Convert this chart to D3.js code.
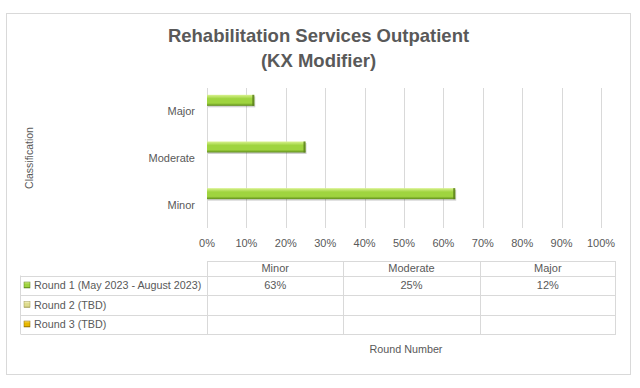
<!DOCTYPE html>
<html>
<head>
<meta charset="utf-8">
<script src="https://cdn.jsdelivr.net/npm/d3@7/dist/d3.min.js"></script>
<style>
  html, body { margin: 0; padding: 0; background: #fff; }
  svg text { font-family: "Liberation Sans", Arial, sans-serif; fill: #595959; }
</style>
</head>
<body>
<svg id="chart" width="640" height="388"></svg>
<script>
/* Rehabilitation Services Outpatient (KX Modifier) — barras horizontais + tabela de dados */

const categorias = ["Minor", "Moderate", "Major"];          // ordem da tabela
const series = ["Round 1 (May 2023 - August 2023)", "Round 2 (TBD)", "Round 3 (TBD)"];
const round1 = [0.63, 0.25, 0.12];
const round2 = [null, null, null];
const round3 = [null, null, null];
const ticksX = [0, 0.1, 0.2, 0.3, 0.4, 0.5, 0.6, 0.7, 0.8, 0.9, 1.0];

const valores = [round1, round2, round3];
const CORES = [
  { top: "#d9f28f", mid: "#9fd43f", bot: "#5f8c1b", end: "#5a7f1c" },
  { top: "#f7f5c8", mid: "#dedc8e", bot: "#a9a55a", end: "#9c984f" },
  { top: "#ffe37a", mid: "#e8b800", bot: "#a07c00", end: "#8a6a00" },
];
const GRADE = "#d9d9d9";

const svg = d3.select("#chart");
const defs = svg.append("defs");
CORES.forEach((c, i) => {
  const g = defs.append("linearGradient").attr("id", `grad${i}`)
    .attr("x1", 0).attr("x2", 0).attr("y1", 0).attr("y2", 1);
  g.append("stop").attr("offset", "0%").attr("stop-color", c.top);
  g.append("stop").attr("offset", "35%").attr("stop-color", c.mid);
  g.append("stop").attr("offset", "75%").attr("stop-color", c.mid);
  g.append("stop").attr("offset", "100%").attr("stop-color", c.bot);
});

// moldura
svg.append("rect").attr("x", 6.5).attr("y", 13.5).attr("width", 624).attr("height", 361)
  .attr("fill", "#fff").attr("stroke", GRADE);

// título
svg.append("text").attr("x", 318.5).attr("y", 41.5).attr("text-anchor", "middle")
  .style("font-size", "18.5px").style("font-weight", "bold")
  .text("Rehabilitation Services Outpatient");
svg.append("text").attr("x", 318.5).attr("y", 66.5).attr("text-anchor", "middle")
  .style("font-size", "18.5px").style("font-weight", "bold")
  .text("(KX Modifier)");

// escalas
const x = d3.scaleLinear().domain([0, 1]).range([207, 601]);
const y = d3.scaleBand().domain([...categorias].reverse()).range([88, 228]);
const ySub = d3.scaleBand().domain(d3.range(series.length))
  .range([0, y.bandwidth()]).paddingOuter(0.62);

// grade vertical
svg.append("g").selectAll("line").data(ticksX).join("line")
  .attr("x1", (d) => Math.round(x(d)) + 0.5).attr("x2", (d) => Math.round(x(d)) + 0.5)
  .attr("y1", 88).attr("y2", 228)
  .attr("stroke", GRADE);

// rótulos do eixo x
svg.append("g").selectAll("text").data(ticksX).join("text")
  .attr("x", (d) => x(d)).attr("y", 247)
  .attr("text-anchor", "middle")
  .style("font-size", "11px")
  .text((d) => d3.format(".0%")(d));

// rótulos das categorias
svg.append("g").selectAll("text").data(categorias).join("text")
  .attr("x", 195).attr("y", (d) => y(d) + y.bandwidth() / 2 + 4)
  .attr("text-anchor", "end")
  .style("font-size", "11px")
  .text((d) => d);

// título do eixo y
svg.append("text")
  .attr("transform", "translate(33,158) rotate(-90)")
  .attr("text-anchor", "middle")
  .style("font-size", "10.5px")
  .text("Classification");

// barras
const barras = [];
valores.forEach((serie, s) => serie.forEach((v, c) => {
  if (v != null) barras.push({ s, cat: categorias[c], v });
}));
const gB = svg.append("g");
gB.selectAll("rect.sombra").data(barras).join("rect").attr("class", "sombra")
  .attr("x", x(0) + 1).attr("y", (d) => y(d.cat) + ySub(d.s) + 1.5)
  .attr("width", (d) => x(d.v) - x(0)).attr("height", ySub.bandwidth())
  .attr("fill", "#000").attr("opacity", 0.18);
gB.selectAll("rect.barra").data(barras).join("rect").attr("class", "barra")
  .attr("x", x(0)).attr("y", (d) => y(d.cat) + ySub(d.s))
  .attr("width", (d) => x(d.v) - x(0)).attr("height", ySub.bandwidth())
  .attr("fill", (d) => `url(#grad${d.s})`);
gB.selectAll("rect.ponta").data(barras).join("rect").attr("class", "ponta")
  .attr("x", (d) => x(d.v) - 2).attr("y", (d) => y(d.cat) + ySub(d.s))
  .attr("width", 2).attr("height", ySub.bandwidth())
  .attr("fill", (d) => CORES[d.s].end).attr("opacity", 0.85);

// tabela de dados
const colX = d3.scaleBand().domain(categorias).range([207, 616]);
const rowTop = 275.5, rowH = [19, 20, 19];
const rowY = [rowTop, rowTop + rowH[0], rowTop + rowH[0] + rowH[1]];
const tabBot = rowY[2] + rowH[2];
const gT = svg.append("g").attr("stroke", GRADE).attr("fill", "none");
// linhas horizontais
gT.append("line").attr("x1", 207).attr("x2", 616).attr("y1", 261.5).attr("y2", 261.5);
[rowTop, rowY[1], rowY[2], tabBot].forEach((yy) =>
  gT.append("line").attr("x1", 20.5).attr("x2", 616).attr("y1", Math.round(yy) + 0.5)
    .attr("y2", Math.round(yy) + 0.5));
// linhas verticais
gT.append("line").attr("x1", 20.5).attr("x2", 20.5).attr("y1", rowTop).attr("y2", tabBot + 0.5);
categorias.forEach((c) => {
  const xx = Math.round(colX(c)) + 0.5;
  gT.append("line").attr("x1", xx).attr("x2", xx).attr("y1", 261.5).attr("y2", tabBot + 0.5);
});
gT.append("line").attr("x1", 615.5).attr("x2", 615.5).attr("y1", 261.5).attr("y2", tabBot + 0.5);

// cabeçalho
svg.append("g").selectAll("text").data(categorias).join("text")
  .attr("x", (d) => colX(d) + colX.bandwidth() / 2).attr("y", 272)
  .attr("text-anchor", "middle").style("font-size", "11px")
  .text((d) => d);

// linhas da legenda
series.forEach((nome, s) => {
  const cy = rowY[s] + rowH[s] / 2;
  svg.append("rect").attr("x", 24).attr("y", cy - 3).attr("width", 6).attr("height", 6)
    .attr("fill", `url(#grad${s})`).attr("stroke", CORES[s].end).attr("stroke-width", 0.5);
  svg.append("text").attr("x", 34).attr("y", cy + 4)
    .style("font-size", "10.75px").text(nome);
  svg.append("g").selectAll("text").data(valores[s].map((v, c) => ({ v, c: categorias[c] }))
      .filter((d) => d.v != null))
    .join("text")
    .attr("x", (d) => colX(d.c) + colX.bandwidth() / 2).attr("y", cy + 4)
    .attr("text-anchor", "middle").style("font-size", "11px")
    .text((d) => d3.format(".0%")(d.v));
});

// título do eixo de categorias da tabela
svg.append("text").attr("x", 406).attr("y", 353).attr("text-anchor", "middle")
  .style("font-size", "10.75px").text("Round Number");
</script>
</body>
</html>
